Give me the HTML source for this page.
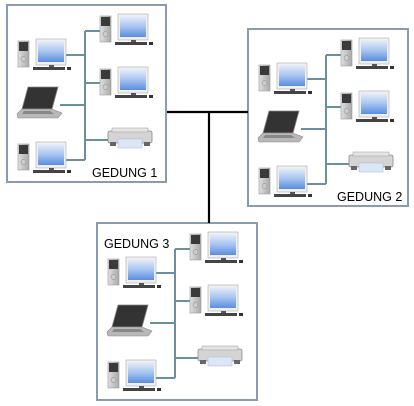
<!DOCTYPE html>
<html><head><meta charset="utf-8"><style>
html,body{margin:0;padding:0;background:#fff;width:414px;height:406px;overflow:hidden}
svg{display:block}
text{font-family:"Liberation Sans",sans-serif;font-size:12.5px;fill:#000}
</style></head><body>
<svg width="414" height="406" viewBox="0 0 414 406" xmlns="http://www.w3.org/2000/svg">
<defs>
<linearGradient id="scr" x1="0" y1="0" x2="0" y2="1">
<stop offset="0" stop-color="#e8eef8"/><stop offset="0.5" stop-color="#a8c4f0"/><stop offset="1" stop-color="#5a8ee0"/>
</linearGradient>
<linearGradient id="tw" x1="0" y1="0" x2="1" y2="0">
<stop offset="0" stop-color="#e0e0e0"/><stop offset="1" stop-color="#a8a8a8"/>
</linearGradient>
<g id="pc">
<rect x="0" y="1" width="11" height="26" fill="url(#tw)" stroke="#999" stroke-width="0.6"/>
<rect x="1" y="2" width="9" height="9" fill="#3a3a3a"/>
<circle cx="5.5" cy="19" r="2.5" fill="#ccc" stroke="#888" stroke-width="0.5"/>
<rect x="18" y="-1" width="30" height="26" fill="#f0f0f0" stroke="#aaa" stroke-width="0.6"/>
<rect x="20" y="1" width="26" height="21" fill="url(#scr)"/>
<rect x="31" y="25" width="5" height="2" fill="#555"/>
<rect x="15" y="27" width="32" height="3" fill="#444"/>
<rect x="49" y="27" width="4" height="3" fill="#333"/>
</g>
<g id="lap">
<polygon points="10,0 40,0 34,22 4,22" fill="#333" stroke="#888" stroke-width="0.8"/>
<polygon points="4,22 34,22 44,26 40,31 0,31 -1,27" fill="#b8b8b8" stroke="#888" stroke-width="0.6"/>
<polygon points="6,24 32,24 36,27 4,27" fill="#888"/>
</g>
<g id="prn">
<rect x="0" y="3" width="44" height="12" rx="2" fill="#d4d4d4" stroke="#888" stroke-width="0.8"/>
<rect x="4" y="0" width="36" height="4" fill="#e4e4e4" stroke="#999" stroke-width="0.5"/>
<rect x="10" y="11" width="24" height="9" fill="#dde6f6" stroke="#a8b8d8" stroke-width="0.5"/>
<rect x="2" y="14" width="6" height="4" fill="#666"/>
<rect x="36" y="14" width="6" height="4" fill="#666"/>
</g>
<g id="net">
<g stroke="#6a90a0" stroke-width="2" fill="none">
<line x1="85" y1="31" x2="85" y2="160"/>
<line x1="85" y1="31" x2="100" y2="31"/>
<line x1="85" y1="83" x2="100" y2="83"/>
<line x1="85" y1="140" x2="108" y2="140"/>
<line x1="64" y1="55" x2="85" y2="55"/>
<line x1="60" y1="105" x2="85" y2="105"/>
<line x1="64" y1="160" x2="85" y2="160"/>
</g>
<use href="#pc" x="18" y="40"/>
<use href="#pc" x="100" y="15"/>
<use href="#pc" x="100" y="68"/>
<use href="#lap" x="18" y="87"/>
<use href="#prn" x="108" y="128"/>
<use href="#pc" x="18" y="143"/>
</g>
</defs>
<g stroke="#8a9ab0" stroke-width="2" fill="none">
<rect x="7" y="5" width="159" height="177"/>
<rect x="248" y="29" width="160" height="177"/>
<rect x="97" y="223" width="160" height="177"/>
</g>
<g stroke="#000" stroke-width="2.2">
<line x1="167" y1="112" x2="248" y2="112"/>
<line x1="209" y1="112" x2="209" y2="223"/>
</g>
<use href="#net"/>
<use href="#net" x="241" y="24"/>
<use href="#net" x="90" y="218"/>
<text x="92" y="177">GEDUNG 1</text>
<text x="337" y="201">GEDUNG 2</text>
<text x="104" y="248">GEDUNG 3</text>
</svg>
</body></html>
